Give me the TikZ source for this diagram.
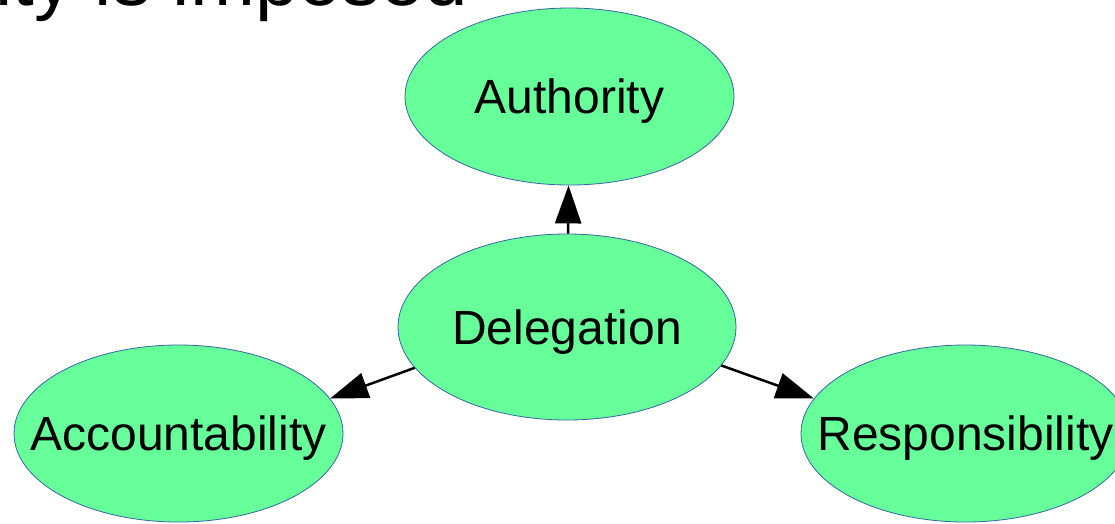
\documentclass[tikz,border=0pt]{standalone}
\usepackage{fontspec}
\setmainfont{Liberation Sans}
\usetikzlibrary{shapes.geometric,arrows.meta}
\definecolor{bubblefill}{RGB}{102,255,153}
\definecolor{bubbleline}{RGB}{52,101,164}
\tikzset{
  bubble/.style={ellipse, fill=bubblefill, draw=bubbleline, line width=0.8pt,
    minimum width=329pt, minimum height=177pt, inner sep=0pt,
    text height=34.5pt, text depth=0pt,
    font=\fontsize{48}{57}\selectfont},
  link/.style={line width=2.5pt, -{Triangle[length=38pt,width=26pt]}},
}
\newcommand{\bubbletext}[1]{\makebox[0pt]{#1}}
\begin{document}
\begin{tikzpicture}[x=1pt,y=-1pt]
\useasboundingbox (0,0) rectangle (1115,523);
% slide title, only its lower edge lies inside the frame
\node[anchor=base west, inner sep=0pt, font=\fontsize{78}{90}\selectfont] (title) at (-5,5) {ity is imposed};
% concept bubbles
\node[bubble] (auth) at (569.5,96.5) {\bubbletext{Authority}};
\node[bubble, minimum width=338pt, minimum height=186pt] (del) at (567,327) {\bubbletext{Delegation}};
\node[bubble] (acc) at (178.5,433.5) {\bubbletext{Accountability}};
\node[bubble] (resp) at (965.5,433.5) {\bubbletext{Responsibility}};
% delegation leads to the other three
\draw[link] (del) -- (auth);
\draw[link] (del.195) -- (acc.13);
\draw[link] (del.346) -- (resp.167);
\end{tikzpicture}
\end{document}
